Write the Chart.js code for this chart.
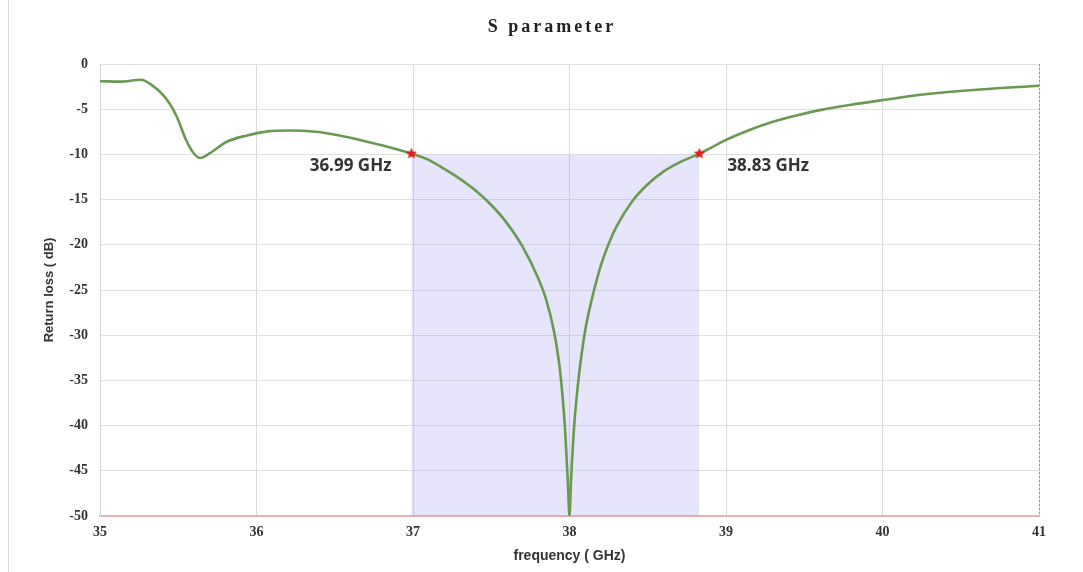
<!DOCTYPE html>
<html>
<head>
<meta charset="utf-8">
<title>S parameter</title>
<script src="https://cdn.jsdelivr.net/npm/chart.js@4.4.1/dist/chart.umd.min.js"></script>
<style>
  html, body { margin: 0; padding: 0; background: #fff; }
  #wrap { width: 1083px; height: 572px; }
</style>
</head>
<body>
<div id="wrap"><canvas id="chart" width="1083" height="572"></canvas></div>
<script>
// values
const freqGHz = [35.0, 35.13, 35.26, 35.32, 35.43, 35.49, 35.55, 35.60, 35.64, 35.70, 35.81, 35.94,
  36.07, 36.21, 36.38, 36.53, 36.66, 36.80, 36.99,
  37.1, 37.2, 37.3, 37.4, 37.5, 37.6, 37.7, 37.8, 37.85, 37.9, 37.94, 37.97, 37.99, 38.0,
  38.01, 38.03, 38.06, 38.1, 38.15, 38.2, 38.25, 38.3, 38.4, 38.5, 38.6, 38.7, 38.83,
  38.9, 39.0, 39.15, 39.3, 39.45, 39.6, 39.8, 40.0, 40.3, 40.6, 41.0];
const returnLoss = [-1.9, -1.95, -1.75, -2.2, -4.0, -5.8, -8.4, -9.9, -10.4, -9.9, -8.6, -7.9,
  -7.45, -7.35, -7.5, -7.9, -8.4, -9.0, -9.92,
  -10.6, -11.6, -12.7, -14.0, -15.6, -17.6, -20.2, -23.7, -26.0, -29.5, -34.0, -40.0, -46.5, -50,
  -46.0, -40.0, -34.5, -29.5, -25.5, -22.3, -19.9, -18.0, -15.2, -13.3, -11.9, -10.9, -9.92,
  -9.3, -8.4, -7.3, -6.4, -5.7, -5.1, -4.5, -4.0, -3.3, -2.85, -2.4];

const markerFreq = [36.99, 38.83];
const markerLoss = [-9.92, -9.92];
const markerLabels = ["36.99 GHz", "38.83 GHz"];
const bandLevel = -10;

const xTicks = [35, 36, 37, 38, 39, 40, 41];
const yTicks = [0, -5, -10, -15, -20, -25, -30, -35, -40, -45, -50];

// small filled red star for the -10 dB markers
function makeStar(size, color) {
  const c = document.createElement("canvas");
  c.width = size; c.height = size;
  const g = c.getContext("2d");
  const cx = size / 2, cy = size / 2, ro = size / 2, ri = size / 4.5;
  g.beginPath();
  for (let i = 0; i < 10; i++) {
    const r = i % 2 === 0 ? ro : ri;
    const a = -Math.PI / 2 + i * Math.PI / 5;
    g.lineTo(cx + r * Math.cos(a), cy + r * Math.sin(a));
  }
  g.closePath();
  g.fillStyle = color;
  g.fill();
  return c;
}
const star = makeStar(12, "#e01e1e");

const curve = freqGHz.map((f, i) => ({ x: f, y: returnLoss[i] }));
const markers = markerFreq.map((f, i) => ({ x: f, y: markerLoss[i] }));
const band = [{ x: markerFreq[0], y: bandLevel }, { x: markerFreq[1], y: bandLevel }];

const decor = {
  id: "decor",
  beforeDraw(chart) {
    const ctx = chart.ctx;
    ctx.save();
    ctx.fillStyle = "#fff";
    ctx.fillRect(0, 0, chart.width, chart.height);
    // thin frame line at the left edge of the picture
    ctx.strokeStyle = "#dcdcdc";
    ctx.lineWidth = 1;
    ctx.beginPath();
    ctx.moveTo(8.5, 0);
    ctx.lineTo(8.5, chart.height);
    ctx.stroke();
    ctx.restore();
  },
  afterDraw(chart) {
    const ctx = chart.ctx;
    const xs = chart.scales.x, ys = chart.scales.y;
    const area = chart.chartArea;
    ctx.save();

    // right border, dotted red
    ctx.strokeStyle = "#d97a7a";
    ctx.lineWidth = 1;
    ctx.setLineDash([2, 2]);
    ctx.beginPath();
    ctx.moveTo(area.right + 0.5, area.top);
    ctx.lineTo(area.right + 0.5, area.bottom);
    ctx.stroke();
    ctx.setLineDash([]);

    // title
    ctx.fillStyle = "#222";
    ctx.font = "bold 18px 'Liberation Serif'";
    ctx.letterSpacing = "3px";
    ctx.textAlign = "center";
    ctx.textBaseline = "middle";
    ctx.fillText("S parameter", 552, 27);
    ctx.letterSpacing = "0px";

    // marker labels
    ctx.fillStyle = "#333";
    ctx.font = "bold 17px 'Open Sans'";
    ctx.textBaseline = "middle";
    const ly = ys.getPixelForValue(markerLoss[0]) + 12;
    ctx.textAlign = "right";
    ctx.fillText(markerLabels[0], xs.getPixelForValue(markerFreq[0]) - 20, ly);
    ctx.textAlign = "left";
    ctx.fillText(markerLabels[1], xs.getPixelForValue(markerFreq[1]) + 28, ly);
    ctx.restore();
  }
};

new Chart(document.getElementById("chart"), {
  type: "line",
  data: {
    datasets: [
      {
        label: "S11",
        data: curve,
        borderColor: "#6a9a52",
        borderWidth: 2.6,
        pointRadius: 0,
        cubicInterpolationMode: "monotone",
        fill: false,
        order: 1
      },
      {
        label: "markers",
        data: markers,
        showLine: false,
        pointStyle: star,
        pointRadius: 6,
        order: 0
      },
      {
        label: "band",
        data: band,
        borderWidth: 0,
        pointRadius: 0,
        backgroundColor: "rgba(160,150,240,0.25)",
        fill: "start",
        order: 2
      }
    ]
  },
  options: {
    responsive: false,
    animation: false,
    layout: { padding: { top: 64, right: 44, left: 0, bottom: 0 } },
    plugins: {
      legend: { display: false },
      tooltip: { enabled: false },
      title: { display: false }
    },
    scales: {
      x: {
        type: "linear",
        min: 35,
        max: 41,
        afterFit(scale) { scale.height = 56; },
        afterBuildTicks(scale) { scale.ticks = xTicks.map(v => ({ value: v })); },
        grid: { color: "#dcdcdc", drawTicks: false },
        border: { color: "#e2b4b4", width: 2 },
        ticks: {
          padding: 8,
          color: "#333",
          font: { family: "'Liberation Serif'", size: 14, weight: "bold" }
        },
        title: {
          display: true,
          text: "frequency ( GHz)",
          color: "#333",
          padding: { top: 7, bottom: 7 },
          font: { family: "'Liberation Sans'", size: 14, weight: "bold" }
        }
      },
      y: {
        type: "linear",
        min: -50,
        max: 0,
        afterFit(scale) { scale.width = 100; },
        afterBuildTicks(scale) { scale.ticks = yTicks.map(v => ({ value: v })); },
        grid: { color: "#e0e0e0", drawTicks: false },
        border: { color: "#d6d6d6" },
        ticks: {
          padding: 12,
          color: "#333",
          font: { family: "'Liberation Serif'", size: 14, weight: "bold" }
        },
        title: {
          display: true,
          text: "Return loss ( dB)",
          color: "#333",
          padding: { top: 42, bottom: 42 },
          font: { family: "'Liberation Sans'", size: 13, weight: "bold" }
        }
      }
    }
  },
  plugins: [decor]
});
</script>
</body>
</html>
